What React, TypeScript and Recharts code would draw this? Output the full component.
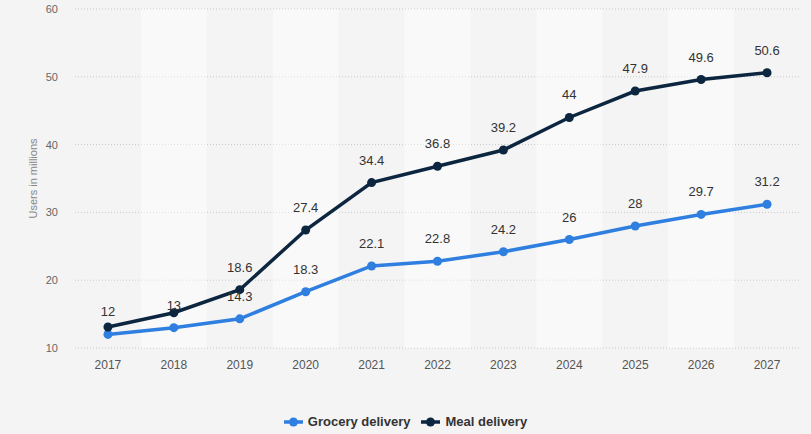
import React from 'react';
import { LineChart, Line, XAxis, YAxis, CartesianGrid, Legend, ReferenceArea, LabelList } from 'recharts';

const years = ['2017', '2018', '2019', '2020', '2021', '2022', '2023', '2024', '2025', '2026', '2027'];
const grocery = [12, 13, 14.3, 18.3, 22.1, 22.8, 24.2, 26, 28, 29.7, 31.2];
const meal = [13.1, 15.2, 18.6, 27.4, 34.4, 36.8, 39.2, 44, 47.9, 49.6, 50.6];
const yTicks = [10, 20, 30, 40, 50, 60];
const shadedYears = ['2018', '2020', '2022', '2024', '2026'];
const hiddenMealLabels = ['2017', '2018'];

const GROCERY = '#2f7fe0';
const MEAL = '#0d2640';
const FONT = '"Liberation Sans", Arial, sans-serif';

const data = years.map((year, i) => ({ year, grocery: grocery[i], meal: meal[i] }));

const makeLabel = (hidden: string[]) => (props: any) => {
  const { x, y, value, index } = props;
  if (hidden.includes(years[index])) return null;
  return (
    <text x={x} y={y - 18} textAnchor="middle" fontSize={13} fill="#333" fontFamily={FONT}>
      {value}
    </text>
  );
};

const LegendContent = () => {
  const items = [
    { name: 'Grocery delivery', color: GROCERY },
    { name: 'Meal delivery', color: MEAL },
  ];
  return (
    <div style={{ display: 'flex', justifyContent: 'center', gap: 11, paddingLeft: 11, fontFamily: FONT, fontSize: 13, fontWeight: 'bold', color: '#333' }}>
      {items.map((it) => (
        <div key={it.name} style={{ display: 'flex', alignItems: 'center' }}>
          <svg width={19} height={10} style={{ marginRight: 5 }}>
            <line x1={0} y1={5} x2={19} y2={5} stroke={it.color} strokeWidth={3.5} />
            <circle cx={9.5} cy={5} r={4.5} fill={it.color} />
          </svg>
          <span>{it.name}</span>
        </div>
      ))}
    </div>
  );
};

export default function App() {
  return (
    <div style={{ position: 'absolute', left: 0, top: 0, width: 811, height: 434, background: '#f4f4f4' }}>
      <LineChart width={811} height={434} data={data} margin={{ top: 9, right: 11, left: 0, bottom: 4 }}>
        {shadedYears.map((y) => (
          <ReferenceArea key={y} x1={y} x2={y} y1={10} y2={60} fill="#ffffff" fillOpacity={0.45} stroke="none" />
        ))}
        <CartesianGrid vertical={false} stroke="#c8c8c8" strokeDasharray="1 2" />
        <XAxis
          dataKey="year"
          scale="band"
          axisLine={false}
          tickLine={false}
          tickSize={0}
          tickMargin={12}
          height={66}
          tick={{ fontSize: 12, fill: '#555', fontFamily: FONT }}
        />
        <YAxis
          domain={[10, 60]}
          ticks={yTicks}
          width={75}
          axisLine={false}
          tickLine={false}
          tickSize={0}
          tickMargin={17}
          tick={{ fontSize: 11, fill: '#666', fontFamily: FONT }}
          label={{ value: 'Users in millions', angle: -90, position: 'insideLeft', offset: 33, style: { fontSize: 11, fill: '#888', fontFamily: FONT, textAnchor: 'middle' } }}
        />
        <Legend verticalAlign="bottom" height={16} content={<LegendContent />} />
        <Line type="linear" dataKey="grocery" name="Grocery delivery" stroke={GROCERY} strokeWidth={3.5} dot={{ r: 4.5, fill: GROCERY, stroke: GROCERY, strokeWidth: 0 }} isAnimationActive={false}>
          <LabelList dataKey="grocery" content={makeLabel([])} />
        </Line>
        <Line type="linear" dataKey="meal" name="Meal delivery" stroke={MEAL} strokeWidth={3.5} dot={{ r: 4.5, fill: MEAL, stroke: MEAL, strokeWidth: 0 }} isAnimationActive={false}>
          <LabelList dataKey="meal" content={makeLabel(hiddenMealLabels)} />
        </Line>
      </LineChart>
    </div>
  );
}
